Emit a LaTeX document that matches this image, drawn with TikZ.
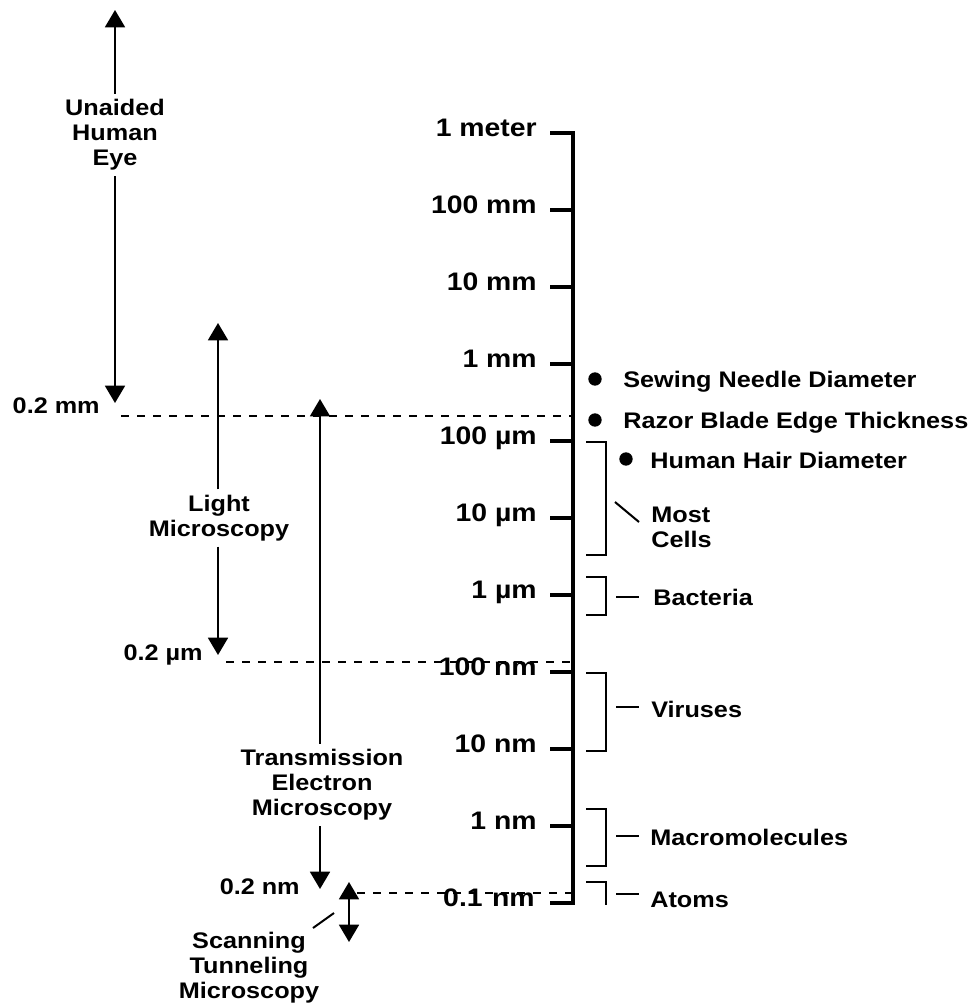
\documentclass[tikz,border=0pt]{standalone}
\usepackage{fontspec}
\setmainfont{Liberation Sans}
\usetikzlibrary{arrows.meta}

\tikzset{
	scalelab/.style={font=\fontsize{19}{19}\selectfont\bfseries, xscale=1.12, anchor=mid east, inner sep=0pt},
	itemlab/.style={font=\fontsize{16.9}{18.75}\selectfont\bfseries, xscale=1.12, anchor=base west, align=left, inner sep=0pt},
	rangelab/.style={font=\fontsize{16.9}{18.75}\selectfont\bfseries, xscale=1.12, align=center, inner sep=4pt},
	rangearr/.style={line width=1.4pt, -{Triangle[width=15pt,length=13pt]}},
	axisline/.style={line width=3pt},
	scaletick/.style={line width=2.5pt},
	bracket/.style={line width=1.7pt},
	guide/.style={line width=1.1pt, dash pattern=on 6pt off 6pt},
	leader/.style={line width=1.5pt},
}

\begin{document}
\begin{tikzpicture}[x=0.75pt, y=-0.75pt]

	\useasboundingbox (0,0) rectangle (974,1006);

	\coordinate (t0) at (573,133);
	\coordinate (t1) at (573,210);
	\coordinate (t2) at (573,287);
	\coordinate (t3) at (573,364);
	\coordinate (t4) at (573,441);
	\coordinate (t5) at (573,518);
	\coordinate (t6) at (573,595);
	\coordinate (t7) at (573,672);
	\coordinate (t8) at (573,749);
	\coordinate (t9) at (573,826);
	\coordinate (t10) at (573,903);

	\draw[axisline] (550,133) -- (t0) -- (t10) -- (550,903);
	\draw[scaletick] (t1) -- ++(-23,0);
	\draw[scaletick] (t2) -- ++(-23,0);
	\draw[scaletick] (t3) -- ++(-23,0);
	\draw[scaletick] (t4) -- ++(-23,0);
	\draw[scaletick] (t5) -- ++(-23,0);
	\draw[scaletick] (t6) -- ++(-23,0);
	\draw[scaletick] (t7) -- ++(-23,0);
	\draw[scaletick] (t8) -- ++(-23,0);
	\draw[scaletick] (t9) -- ++(-23,0);

	\node[scalelab] (l0) at (537,133) {1 meter};
	\node[scalelab] (l1) at (537,210) {100 mm};
	\node[scalelab] (l2) at (537,287) {10 mm};
	\node[scalelab] (l3) at (537,364) {1 mm};
	\node[scalelab] (l4) at (537,441) {100 µm};
	\node[scalelab] (l5) at (537,518) {10 µm};
	\node[scalelab] (l6) at (537,595) {1 µm};
	\node[scalelab] (l7) at (537,672) {100 nm};
	\node[scalelab] (l8) at (537,749) {10 nm};
	\node[scalelab] (l9) at (537,826) {1 nm};
	\node[scalelab] (l10) at (535,903) {0.1\,\,nm};

	\fill (595,379) circle (5pt);
	\fill (595,420) circle (5pt);
	\fill (626,459) circle (5pt);
	\node[itemlab] (needle) at (623,387) {Sewing Needle Diameter};
	\node[itemlab] (razor) at (623,428) {Razor Blade Edge Thickness};
	\node[itemlab] (hair) at (650,468) {Human Hair Diameter};

	\draw[bracket] (586,442) -| (606,555) -- (586,555);
	\draw[bracket] (586,577) -| (606,615) -- (586,615);
	\draw[bracket] (586,673) -| (606,751) -- (586,751);
	\draw[bracket] (586,809) -| (606,866) -- (586,866);
	\draw[bracket] (586,882) -| (606,905);

	\node[itemlab] (cells) at (651,547) {Most\\Cells};
	\node[itemlab] (bacteria) at (653,605) {Bacteria};
	\node[itemlab] (viruses) at (651,717) {Viruses};
	\node[itemlab] (macro) at (650,845) {Macromolecules};
	\node[itemlab] (atoms) at (650,907) {Atoms};

	\coordinate (c1) at (615,502);
	\coordinate (c2) at (639,522);
	\draw[leader] (c1) -- (c2);
	\draw[leader] (616,597) -- (639,597);
	\draw[leader] (616,707) -- (639,707);
	\draw[leader] (616,836) -- (639,836);
	\draw[leader] (616,894) -- (639,894);

	\node[rangelab] (eye) at (115,135) {Unaided\\Human\\Eye};
	\coordinate (eyetop) at (115,10);
	\coordinate (eyebot) at (115,403);
	\draw[rangearr] (eye) -- (eyetop);
	\draw[rangearr] (eye) -- (eyebot);
	\node[rangelab, anchor=base east, inner sep=0pt] (mm2) at (100,413) {0.2 mm};
	\coordinate (g1) at (121,416);
	\draw[guide] (g1) -- (g1 -| t0);

	\node[rangelab] (light) at (219,518) {Light\\Microscopy};
	\coordinate (lighttop) at (218,323);
	\coordinate (lightbot) at (218,655);
	\draw[rangearr] (light.north -| lighttop) -- (lighttop);
	\draw[rangearr] (light.south -| lightbot) -- (lightbot);
	\node[rangelab, anchor=base east, inner sep=0pt] (um2) at (203,660) {0.2 µm};
	\coordinate (g2) at (226,662);
	\draw[guide] (g2) -- (g2 -| t0);

	\node[rangelab] (tem) at (322,785) {Transmission\\Electron\\Microscopy};
	\coordinate (temtop) at (320,399);
	\coordinate (tembot) at (320,889);
	\draw[rangearr] (tem.north -| temtop) -- (temtop);
	\draw[rangearr] (tem.south -| tembot) -- (tembot);
	\node[rangelab, anchor=base east, inner sep=0pt] (nm2) at (300,894) {0.2 nm};

	\coordinate (stmtop) at (349,882);
	\coordinate (stmbot) at (349,942);
	\draw[line width=1.4pt, {Triangle[width=15pt,length=13pt]}-{Triangle[width=15pt,length=13pt]}] (stmtop) -- (stmbot);
	\coordinate (g3) at (357,893);
	\draw[guide] (g3) -- (g3 -| t0);
	\node[rangelab] (stm) at (249,968) {Scanning\\Tunneling\\Microscopy};
	\coordinate (s1) at (313,928);
	\coordinate (s2) at (334,913);
	\draw[leader] (s1) -- (s2);

\end{tikzpicture}
\end{document}
